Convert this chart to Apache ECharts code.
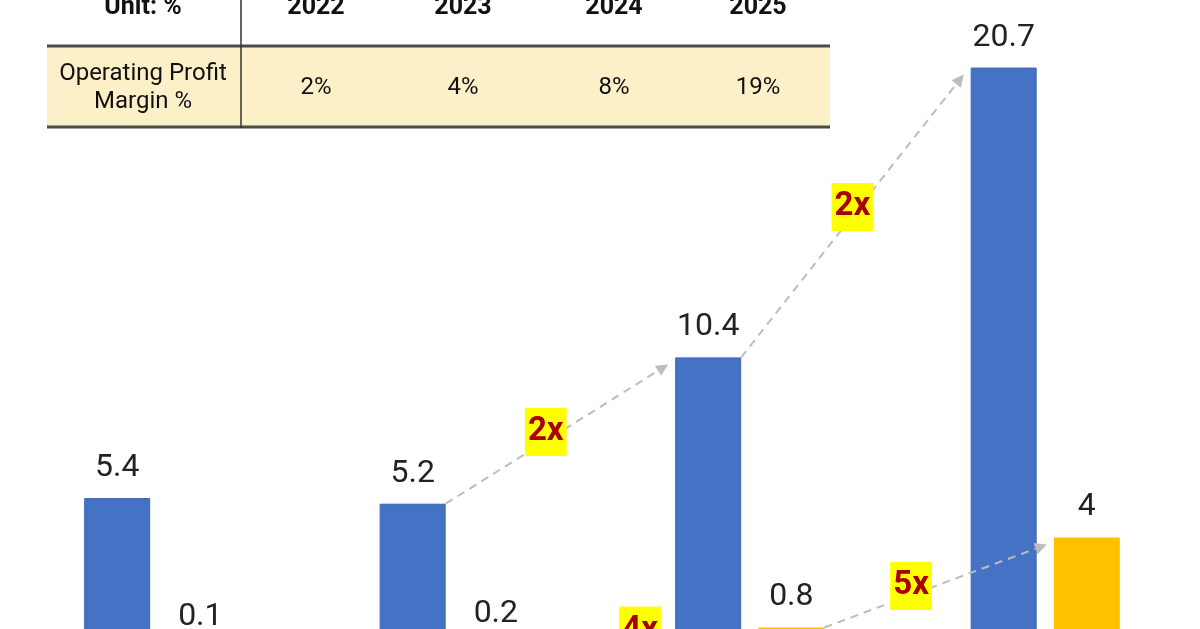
<!DOCTYPE html>
<html>
<head>
<meta charset="utf-8">
<script src="https://cdn.jsdelivr.net/npm/echarts@6/dist/echarts.min.js"></script>
<style>
  html, body { margin: 0; padding: 0; background: #fff; }
  #main { width: 1200px; height: 629px; }
</style>
</head>
<body>
<div id="main"></div>
<script>
var years = ['2022', '2023', '2024', '2025']
var revenue = [5.4, 5.2, 10.4, 20.7]
var profit = [0.1, 0.2, 0.8, 4]
var marginPct = ['2%', '4%', '8%', '19%']
// growth arrows: series index, from index, to index, label, where the label sits along the arrow
var growth = [[0, 1, 2, '2x', 0.45], [0, 2, 3, '2x', 0.5], [1, 1, 2, '4x', 0.5], [1, 2, 3, '5x', 0.39]]

var FONT = 'Roboto, "Liberation Sans", sans-serif'
var chart = echarts.init(document.getElementById('main'))

var labelStyle = {
  show: true,
  position: 'top',
  distance: 14,
  fontSize: 32,
  fontFamily: FONT,
  color: '#222'
}

// the baseline sits below the visible picture, as in the cropped original
chart.setOption({
  animation: false,
  grid: {left: 11, right: 7, top: 31, bottom: -21, outerBoundsMode: 'none'},
  xAxis: {type: 'category', data: years, show: false},
  yAxis: {type: 'value', min: 0, max: 22, show: false},
  series: [
    {
      type: 'bar', data: revenue, barWidth: 66, barGap: '26%',
      itemStyle: {color: '#4472C4', borderColor: '#3D67B5', borderWidth: 1},
      label: labelStyle
    },
    {
      type: 'bar', data: profit, barWidth: 66,
      itemStyle: {color: '#FFC000'},
      label: labelStyle
    }
  ]
})

function barBox(si, i) {
  var l = chart.getModel().getSeriesByIndex(si).getData().getItemLayout(i)
  return {
    left: Math.min(l.x, l.x + l.width),
    right: Math.max(l.x, l.x + l.width),
    top: Math.min(l.y, l.y + l.height)
  }
}

var elements = []

// table
var cols = [316, 463, 614, 758]
elements.push({type: 'rect', z: 1, shape: {x: 47, y: 47, width: 783, height: 80}, style: {fill: '#FCF0C8'}})
elements.push({type: 'line', z: 2, shape: {x1: 47, y1: 46, x2: 830, y2: 46}, style: {stroke: '#4a4a4a', lineWidth: 3}})
elements.push({type: 'line', z: 2, shape: {x1: 47, y1: 127, x2: 830, y2: 127}, style: {stroke: '#4a4a4a', lineWidth: 3}})
elements.push({type: 'line', z: 2, shape: {x1: 241, y1: 0, x2: 241, y2: 128}, style: {stroke: '#333', lineWidth: 1.5}})
elements.push({type: 'text', z: 3, x: 143, y: 8, style: {text: 'Unit: %', font: 'bold 25px ' + FONT, fill: '#111', align: 'center', verticalAlign: 'middle'}})
elements.push({type: 'text', z: 3, x: 143, y: 74, style: {text: 'Operating Profit', font: '24px ' + FONT, fill: '#111', align: 'center', verticalAlign: 'middle'}})
elements.push({type: 'text', z: 3, x: 143, y: 102, style: {text: 'Margin %', font: '24px ' + FONT, fill: '#111', align: 'center', verticalAlign: 'middle'}})
years.forEach(function (y, i) {
  elements.push({type: 'text', z: 3, x: cols[i], y: 8, style: {text: y, font: 'bold 25px ' + FONT, fill: '#111', align: 'center', verticalAlign: 'middle'}})
  elements.push({type: 'text', z: 3, x: cols[i], y: 88, style: {text: marginPct[i], font: '24px ' + FONT, fill: '#111', align: 'center', verticalAlign: 'middle'}})
})

// growth arrows
growth.forEach(function (g) {
  var a = barBox(g[0], g[1])
  var b = barBox(g[0], g[2])
  var x1 = a.right, y1 = a.top
  var x2 = b.left - 7, y2 = b.top + 7
  var dx = x2 - x1, dy = y2 - y1
  var len = Math.sqrt(dx * dx + dy * dy)
  var ux = dx / len, uy = dy / len
  var bx = x2 - ux * 12, by = y2 - uy * 12
  elements.push({type: 'line', z: 5, shape: {x1: x1, y1: y1, x2: bx, y2: by},
    style: {stroke: '#BDBDBD', lineWidth: 2, lineDash: [8, 6]}})
  elements.push({type: 'polygon', z: 5,
    shape: {points: [[x2, y2], [bx - uy * 6, by + ux * 6], [bx + uy * 6, by - ux * 6]]},
    style: {fill: '#BDBDBD'}})
  elements.push({type: 'text', z: 6, x: x1 + dx * g[4], y: y1 + dy * g[4] - 9,
    style: {text: g[3], font: 'bold 33px ' + FONT, fill: '#A80000', align: 'center', verticalAlign: 'middle',
      backgroundColor: '#FFFF00', padding: [9, 3, 6, 3]}})
})

chart.setOption({graphic: {elements: elements}})
window.addEventListener('resize', chart.resize)
</script>
</body>
</html>
